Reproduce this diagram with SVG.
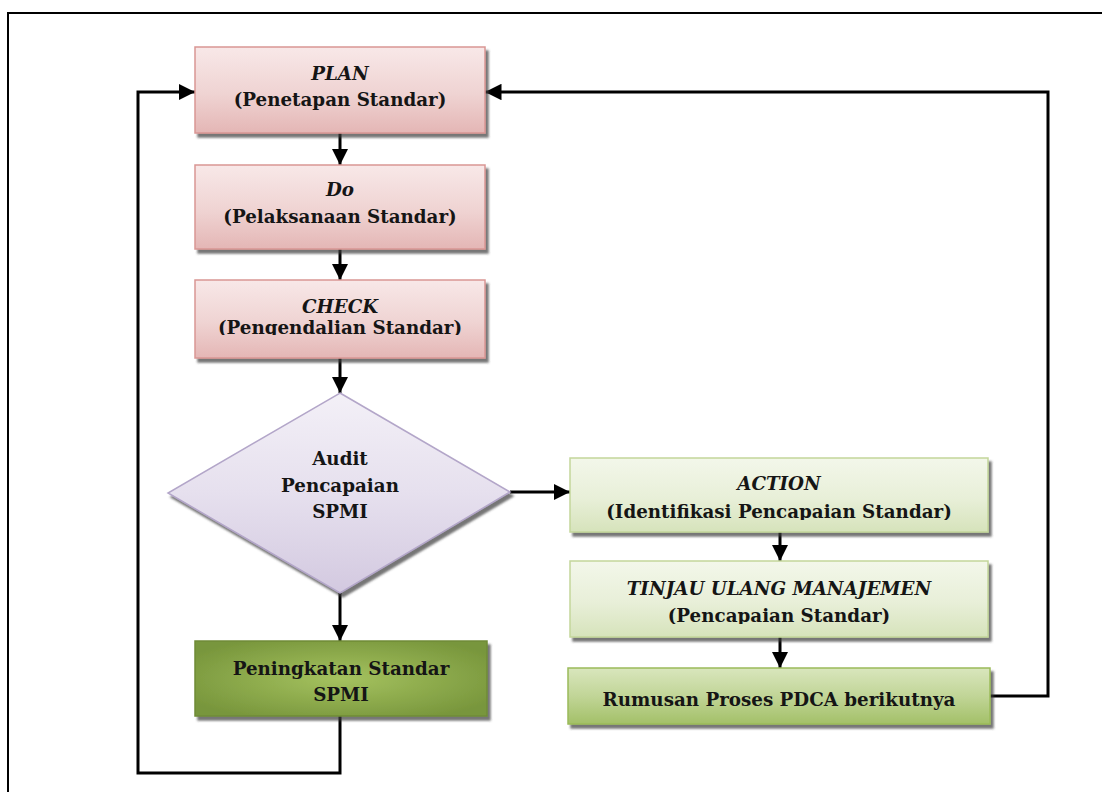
<svg xmlns="http://www.w3.org/2000/svg" width="1102" height="792" viewBox="0 0 1102 792">
  <defs>
    <style>
      .lbl { font-family: "DejaVu Serif", "Liberation Serif", serif; font-weight: bold; font-size: 18.3px; fill: #151515; text-anchor: middle; }
      .it { font-style: italic; }
      .wire { fill: none; stroke: #000; stroke-width: 3; }
      .frame { fill: none; stroke: #000; stroke-width: 2; }
    </style>
    <linearGradient id="gPink" x1="0" y1="0" x2="0" y2="1">
      <stop offset="0" stop-color="#f8e8e8"/>
      <stop offset="0.55" stop-color="#efd3d2"/>
      <stop offset="1" stop-color="#e4b6b5"/>
    </linearGradient>
    <linearGradient id="gLav" x1="0" y1="0" x2="0" y2="1">
      <stop offset="0" stop-color="#f3f0f7"/>
      <stop offset="0.5" stop-color="#e6e0ee"/>
      <stop offset="1" stop-color="#d3c9e0"/>
    </linearGradient>
    <linearGradient id="gLight" x1="0" y1="0" x2="0" y2="1">
      <stop offset="0" stop-color="#f3f7ea"/>
      <stop offset="0.55" stop-color="#e8efd8"/>
      <stop offset="1" stop-color="#d6e3bb"/>
    </linearGradient>
    <linearGradient id="gMid" x1="0" y1="0" x2="0" y2="1">
      <stop offset="0" stop-color="#d9e6bd"/>
      <stop offset="0.5" stop-color="#c1d597"/>
      <stop offset="1" stop-color="#a3c068"/>
    </linearGradient>
    <radialGradient id="gDark" cx="0.5" cy="0.5" r="0.6">
      <stop offset="0" stop-color="#a5c25f"/>
      <stop offset="1" stop-color="#78963c"/>
    </radialGradient>
    <filter id="shadow" x="-5%" y="-10%" width="115%" height="130%">
      <feDropShadow dx="3" dy="4" stdDeviation="1.2" flood-color="#3a3a3a" flood-opacity="0.7"/>
    </filter>
    <marker id="arrow" viewBox="0 0 10 10" refX="10" refY="5" markerWidth="5.5" markerHeight="5.5" orient="auto" markerUnits="strokeWidth">
      <path d="M0,0 L10,5 L0,10 Z" fill="#000"/>
    </marker>
    <clipPath id="clipCheck"><rect x="195" y="280" width="290" height="55"/></clipPath>
    <clipPath id="clipAction"><rect x="570" y="458" width="418" height="62"/></clipPath>
    <clipPath id="clipReview"><rect x="570" y="561" width="418" height="63"/></clipPath>
  </defs>

  <rect width="1102" height="792" fill="#fff"/>
  <!-- page frame (runs off the right and bottom edges) -->
  <path class="frame" d="M8,792 L8,13 L1102,13"/>

  <g id="connectors">
    <line class="wire" x1="340" y1="133" x2="340" y2="165" marker-end="url(#arrow)"/>
    <line class="wire" x1="340" y1="249" x2="340" y2="280" marker-end="url(#arrow)"/>
    <line class="wire" x1="340" y1="358" x2="340" y2="393" marker-end="url(#arrow)"/>
    <line class="wire" x1="510" y1="492" x2="570" y2="492" marker-end="url(#arrow)"/>
    <line class="wire" x1="340" y1="593" x2="340" y2="641" marker-end="url(#arrow)"/>
    <line class="wire" x1="780" y1="532" x2="780" y2="561" marker-end="url(#arrow)"/>
    <line class="wire" x1="780" y1="637" x2="780" y2="668" marker-end="url(#arrow)"/>
    <path class="wire" d="M340,716 L340,773 L138,773 L138,92 L195,92" marker-end="url(#arrow)"/>
    <path class="wire" d="M990,696 L1048,696 L1048,92 L485,92" marker-end="url(#arrow)"/>
  </g>

  <g id="plan">
    <rect x="195" y="47" width="290" height="86" fill="url(#gPink)" stroke="#d99694" stroke-width="1.5" filter="url(#shadow)"/>
    <text class="lbl it" x="340" y="80">PLAN</text>
    <text class="lbl" x="340" y="106">(Penetapan Standar)</text>
  </g>

  <g id="do">
    <rect x="195" y="165" width="290" height="84" fill="url(#gPink)" stroke="#d99694" stroke-width="1.5" filter="url(#shadow)"/>
    <text class="lbl it" x="340" y="196">Do</text>
    <text class="lbl" x="340" y="223">(Pelaksanaan Standar)</text>
  </g>

  <g id="check">
    <rect x="195" y="280" width="290" height="78" fill="url(#gPink)" stroke="#d99694" stroke-width="1.5" filter="url(#shadow)"/>
    <g clip-path="url(#clipCheck)">
      <text class="lbl it" x="340" y="313">CHECK</text>
      <text class="lbl" x="340" y="334">(Pengendalian Standar)</text>
    </g>
  </g>

  <g id="audit">
    <polygon points="340,393 510,492 340,593 168,493" fill="url(#gLav)" stroke="#b3a6c9" stroke-width="1.5" filter="url(#shadow)"/>
    <text class="lbl" x="340" y="465">Audit</text>
    <text class="lbl" x="340" y="492">Pencapaian</text>
    <text class="lbl" x="340" y="518">SPMI</text>
  </g>

  <g id="action">
    <rect x="570" y="458" width="418" height="74" fill="url(#gLight)" stroke="#c3d69b" stroke-width="1.5" filter="url(#shadow)"/>
    <g clip-path="url(#clipAction)">
      <text class="lbl it" x="779" y="490">ACTION</text>
      <text class="lbl" x="779" y="518">(Identifikasi Pencapaian  Standar)</text>
    </g>
  </g>

  <g id="review">
    <rect x="570" y="561" width="418" height="76" fill="url(#gLight)" stroke="#c3d69b" stroke-width="1.5" filter="url(#shadow)"/>
    <g clip-path="url(#clipReview)">
      <text class="lbl it" x="779" y="595">TINJAU ULANG MANAJEMEN</text>
      <text class="lbl" x="779" y="622">(Pencapaian Standar)</text>
    </g>
  </g>

  <g id="improve">
    <rect x="195" y="641" width="292" height="75" fill="url(#gDark)" stroke="#6f8b36" stroke-width="1.5" filter="url(#shadow)"/>
    <text class="lbl" x="341" y="675">Peningkatan Standar</text>
    <text class="lbl" x="341" y="701">SPMI</text>
  </g>

  <g id="next">
    <rect x="568" y="668" width="422" height="56" fill="url(#gMid)" stroke="#9bbb59" stroke-width="1.5" filter="url(#shadow)"/>
    <text class="lbl" x="779" y="706">Rumusan Proses PDCA berikutnya</text>
  </g>
</svg>
